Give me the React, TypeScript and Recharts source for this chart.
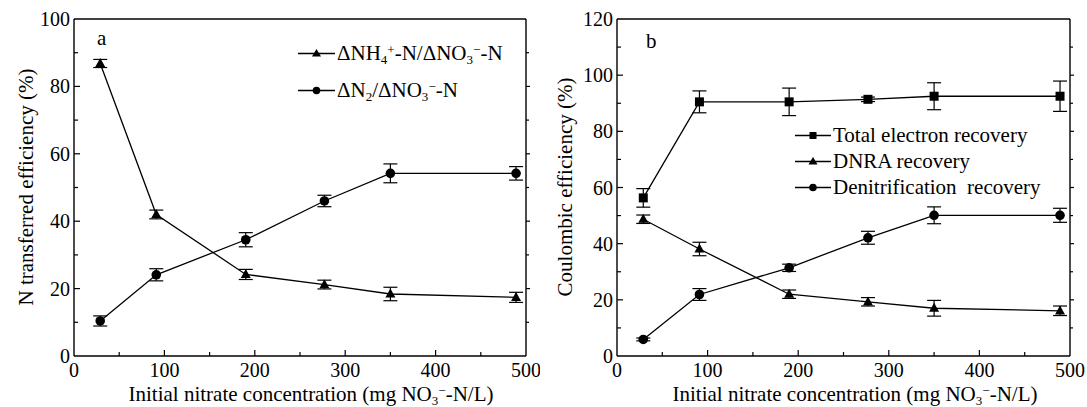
import React from "react";
import { LineChart, Line, XAxis, YAxis, ErrorBar } from "recharts";

const FONT = '"Times New Roman"';

// initial nitrate (mg NO3--N/L)
const concentration = [29, 91, 190, 277, 350, 489];

// panel a: N transferred efficiency (%)
const nh4Transfer = [86.8, 42.0, 24.2, 21.2, 18.4, 17.4];
const nh4TransferErr = [1.2, 1.3, 1.5, 1.3, 2.0, 1.5];
const n2Transfer = [10.4, 24.1, 34.5, 46.0, 54.2, 54.2];
const n2TransferErr = [1.5, 1.8, 2.1, 1.7, 2.8, 2.0];

// panel b: coulombic efficiency (%)
const totalRecovery = [56.3, 90.5, 90.5, 91.4, 92.5, 92.5];
const totalRecoveryErr = [3.3, 3.9, 4.9, 0.8, 4.8, 5.4];
const dnraRecovery = [48.7, 38.1, 22.0, 19.3, 17.0, 16.1];
const dnraRecoveryErr = [1.5, 2.4, 1.5, 1.5, 2.8, 1.7];
const denitRecovery = [5.9, 21.9, 31.4, 42.1, 50.1, 50.1];
const denitRecoveryErr = [0.5, 2.1, 1.3, 2.3, 3.0, 2.5];

const xTicks = [0, 50, 100, 150, 200, 250, 300, 350, 400, 450, 500];
const yTicksA = [0, 10, 20, 30, 40, 50, 60, 70, 80, 90, 100];
const yTicksB = [0, 10, 20, 30, 40, 50, 60, 70, 80, 90, 100, 110, 120];

const dataA = concentration.map((c, i) => ({
  c,
  nh4: nh4Transfer[i],
  nh4Err: nh4TransferErr[i],
  n2: n2Transfer[i],
  n2Err: n2TransferErr[i],
}));

const dataB = concentration.map((c, i) => ({
  c,
  total: totalRecovery[i],
  totalErr: totalRecoveryErr[i],
  dnra: dnraRecovery[i],
  dnraErr: dnraRecoveryErr[i],
  denit: denitRecovery[i],
  denitErr: denitRecoveryErr[i],
}));

const axisStyle = { stroke: "#000", strokeWidth: 1.4 };

function AxisTick(props: any) {
  const { x, y, payload, side, major, min, max } = props;
  const v = payload.value;
  const isMajor = v % major === 0;
  const edge = v === min || v === max;
  const len = isMajor ? 6 : 4;
  let line: any = null;
  let label: any = null;
  if (side === "bottom") {
    if (!edge) line = <line x1={x} x2={x} y1={y} y2={y - len} />;
    if (isMajor)
      label = (
        <text x={x} y={y + 21} textAnchor="middle" style={{ fontFamily: FONT, fontSize: 20 }} fill="#000">
          {v}
        </text>
      );
  } else if (side === "left") {
    if (!edge) line = <line x1={x} x2={x + len} y1={y} y2={y} />;
    if (isMajor)
      label = (
        <text x={x - 4} y={y + 7} textAnchor="end" style={{ fontFamily: FONT, fontSize: 20 }} fill="#000">
          {v}
        </text>
      );
  } else if (side === "top") {
    if (!edge) line = <line x1={x} x2={x} y1={y} y2={y - (isMajor ? 4 : 3)} />;
  } else {
    if (!edge) line = <line x1={x} x2={x + (isMajor ? 4 : 3)} y1={y} y2={y} />;
  }
  return (
    <g>
      {line && <g stroke="#000" strokeWidth={1.2}>{line}</g>}
      {label}
    </g>
  );
}

const triangleDot = (size: number) => (p: any) => {
  const { cx, cy, index } = p;
  const h = size * 0.9;
  return (
    <path
      key={"t" + index}
      d={`M${cx},${cy - h * 0.6}L${cx + size / 2},${cy + h * 0.4}L${cx - size / 2},${cy + h * 0.4}Z`}
      fill="#000"
    />
  );
};

const circleDot = (r: number) => (p: any) => (
  <circle key={"c" + p.index} cx={p.cx} cy={p.cy} r={r} fill="#000" />
);

const squareDot = (s: number) => (p: any) => (
  <rect key={"s" + p.index} x={p.cx - s / 2} y={p.cy - s / 2} width={s} height={s} fill="#000" />
);

function frameAxes(yMax: number, yTicks: number[]) {
  return [
    <XAxis
      key="xb"
      xAxisId="b"
      dataKey="c"
      type="number"
      domain={[0, 500]}
      ticks={xTicks}
      interval={0}
      allowDataOverflow
      tickSize={0}
      tickMargin={0}
      tickLine={false}
      axisLine={axisStyle}
      height={40}
      tick={(p: any) => <AxisTick {...p} side="bottom" major={100} min={0} max={500} />}
    />,
    <XAxis
      key="xt"
      xAxisId="t"
      orientation="top"
      type="number"
      domain={[0, 500]}
      ticks={xTicks}
      interval={0}
      allowDataOverflow
      tickSize={0}
      tickMargin={0}
      tickLine={false}
      axisLine={axisStyle}
      height={10}
      tick={(p: any) => <AxisTick {...p} side="top" major={100} min={0} max={500} />}
    />,
    <YAxis
      key="yl"
      yAxisId="l"
      type="number"
      domain={[0, yMax]}
      ticks={yTicks}
      interval={0}
      allowDataOverflow
      tickSize={0}
      tickMargin={0}
      tickLine={false}
      axisLine={axisStyle}
      width={64}
      tick={(p: any) => <AxisTick {...p} side="left" major={20} min={0} max={yMax} />}
    />,
    <YAxis
      key="yr"
      yAxisId="r"
      orientation="right"
      type="number"
      domain={[0, yMax]}
      ticks={yTicks}
      interval={0}
      allowDataOverflow
      tickSize={0}
      tickMargin={0}
      tickLine={false}
      axisLine={axisStyle}
      width={10}
      tick={(p: any) => <AxisTick {...p} side="right" major={20} min={0} max={yMax} />}
    />,
  ];
}

function PanelA() {
  return (
    <LineChart width={540} height={407} data={dataA} margin={{ top: 9, right: 4, bottom: 11, left: 10 }}>
      {frameAxes(100, yTicksA)}
      <Line xAxisId="b" yAxisId="l" dataKey="nh4" stroke="#000" strokeWidth={1.3} isAnimationActive={false} dot={triangleDot(10)}>
        <ErrorBar dataKey="nh4Err" direction="y" width={7} stroke="#000" strokeWidth={1.2} isAnimationActive={false} />
      </Line>
      <Line xAxisId="b" yAxisId="l" dataKey="n2" stroke="#000" strokeWidth={1.3} isAnimationActive={false} dot={circleDot(4.8)}>
        <ErrorBar dataKey="n2Err" direction="y" width={7} stroke="#000" strokeWidth={1.2} isAnimationActive={false} />
      </Line>
    </LineChart>
  );
}

function PanelB() {
  return (
    <LineChart width={547} height={407} data={dataB} margin={{ top: 9, right: 7, bottom: 11, left: 13 }}>
      {frameAxes(120, yTicksB)}
      <Line xAxisId="b" yAxisId="l" dataKey="total" stroke="#000" strokeWidth={1.3} isAnimationActive={false} dot={squareDot(9)}>
        <ErrorBar dataKey="totalErr" direction="y" width={7} stroke="#000" strokeWidth={1.2} isAnimationActive={false} />
      </Line>
      <Line xAxisId="b" yAxisId="l" dataKey="dnra" stroke="#000" strokeWidth={1.3} isAnimationActive={false} dot={triangleDot(10)}>
        <ErrorBar dataKey="dnraErr" direction="y" width={7} stroke="#000" strokeWidth={1.2} isAnimationActive={false} />
      </Line>
      <Line xAxisId="b" yAxisId="l" dataKey="denit" stroke="#000" strokeWidth={1.3} isAnimationActive={false} dot={circleDot(4.8)}>
        <ErrorBar dataKey="denitErr" direction="y" width={7} stroke="#000" strokeWidth={1.2} isAnimationActive={false} />
      </Line>
    </LineChart>
  );
}

const subStyle: React.CSSProperties = { fontSize: "0.62em", verticalAlign: "baseline", position: "relative", top: "0.32em", lineHeight: 0 };
const supStyle: React.CSSProperties = { fontSize: "0.62em", verticalAlign: "baseline", position: "relative", top: "-0.5em", lineHeight: 0 };

function LegendMark({ shape, width }: { shape: string; width: number }) {
  const cy = 6;
  const mx = width / 2;
  return (
    <svg width={width} height={12} style={{ display: "block", flex: "none" }}>
      <line x1={0} x2={width} y1={cy} y2={cy} stroke="#000" strokeWidth={1.3} />
      {shape === "triangle" && <path d={`M${mx},${cy - 4.5}L${mx + 4.5},${cy + 3}L${mx - 4.5},${cy + 3}Z`} fill="#000" />}
      {shape === "circle" && <circle cx={mx} cy={cy} r={3.8} fill="#000" />}
      {shape === "square" && <rect x={mx - 3.5} y={cy - 3.5} width={7} height={7} fill="#000" />}
    </svg>
  );
}

function LegendRow({ left, top, shape, width, children }: any) {
  return (
    <div
      style={{
        position: "absolute",
        left,
        top,
        transform: "translateY(-50%)",
        display: "flex",
        alignItems: "center",
        whiteSpace: "pre",
        fontSize: 21,
        lineHeight: "23px",
        fontFamily: FONT,
      }}
    >
      <LegendMark shape={shape} width={width} />
      <span style={{ marginLeft: 2, fontFamily: FONT }}>{children}</span>
    </div>
  );
}

const textBase: React.CSSProperties = {
  position: "absolute",
  whiteSpace: "nowrap",
  fontSize: 21,
  lineHeight: "23px",
  fontFamily: FONT,
};

export default function App() {
  return (
    <div
      style={{
        position: "absolute",
        left: 0,
        top: 0,
        width: 1087,
        height: 407,
        overflow: "hidden",
        background: "#fff",
        fontFamily: FONT,
        color: "#000",
      }}
    >
      <style>{`#root, #root * { font-family: "Liberation Serif", "Times New Roman" !important; }`}</style>
      <div style={{ position: "absolute", left: 0, top: 0 }}>
        <PanelA />
      </div>
      <div style={{ position: "absolute", left: 540, top: 0 }}>
        <PanelB />
      </div>

      {/* panel letters */}
      <div style={{ ...textBase, left: 97, top: 27 }}>a</div>
      <div style={{ ...textBase, left: 646, top: 30 }}>b</div>

      {/* y axis titles */}
      <div style={{ ...textBase, left: 26, top: 187, transform: "translate(-50%, -50%) rotate(-90deg)" }}>
        N transferred efficiency (%)
      </div>
      <div style={{ ...textBase, left: 565, top: 187, transform: "translate(-50%, -50%) rotate(-90deg)" }}>
        Coulombic efficiency (%)
      </div>

      {/* x axis titles */}
      <div style={{ ...textBase, left: 311, top: 383, transform: "translateX(-50%)" }}>
        Initial nitrate concentration (mg NO<span style={subStyle}>3</span>
        <span style={supStyle}>−</span>-N/L)
      </div>
      <div style={{ ...textBase, left: 855, top: 383, transform: "translateX(-50%)" }}>
        Initial nitrate concentration (mg NO<span style={subStyle}>3</span>
        <span style={supStyle}>−</span>-N/L)
      </div>

      {/* legend a */}
      <LegendRow left={298} top={53} shape="triangle" width={37}>
        ΔNH<span style={subStyle}>4</span>
        <span style={supStyle}>+</span>-N/ΔNO<span style={subStyle}>3</span>
        <span style={supStyle}>−</span>-N
      </LegendRow>
      <LegendRow left={298} top={90} shape="circle" width={37}>
        ΔN<span style={subStyle}>2</span>/ΔNO<span style={subStyle}>3</span>
        <span style={supStyle}>−</span>-N
      </LegendRow>

      {/* legend b */}
      <LegendRow left={795} top={135} shape="square" width={36}>
        Total electron recovery
      </LegendRow>
      <LegendRow left={795} top={161} shape="triangle" width={36}>
        DNRA recovery
      </LegendRow>
      <LegendRow left={795} top={187} shape="circle" width={36}>
        {"Denitrification  recovery"}
      </LegendRow>
    </div>
  );
}
